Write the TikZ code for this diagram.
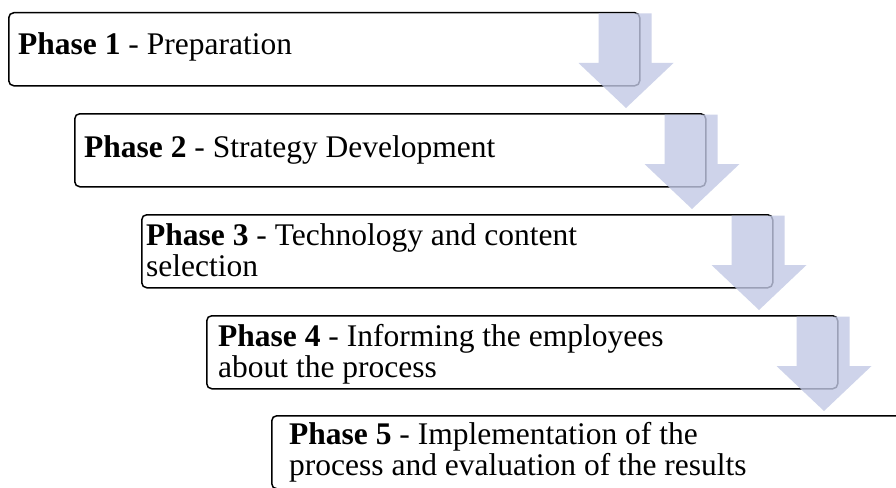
\documentclass[tikz,border=0pt]{standalone}
\usepackage{fontspec}
\setmainfont{Liberation Serif}
\usetikzlibrary{calc}
\definecolor{arrowfill}{RGB}{194,201,229}
\tikzset{
  phasebox/.style={draw=black, line width=1.5pt, rounded corners=5pt, fill=white,
    minimum width=631pt, minimum height=73pt, inner sep=0pt, anchor=north west},
  phasetext/.style={anchor=base west, inner sep=0pt, align=left, text=black,
    font=\fontsize{31.5}{31}\selectfont},
  downarrow/.style={fill=arrowfill, fill opacity=0.8, draw=none}
}
\newcommand{\phasearrow}[1]{%
  \fill[downarrow]
    ($(#1.north east)+(-42,1.5)$) -- ($(#1.north east)+(11,1.5)$) --
    ($(#1.north east)+(11,51)$) -- ($(#1.north east)+(33,51)$) --
    ($(#1.north east)+(-14.5,96)$) -- ($(#1.north east)+(-62,51)$) --
    ($(#1.north east)+(-42,51)$) -- cycle;}
\begin{document}
\begin{tikzpicture}[x=1pt,y=-1pt]
\useasboundingbox (0,0) rectangle (896,487);
\clip (0,0) rectangle (896,487);
\fill[white] (0,0) rectangle (896,487);
% boxes
\node[phasebox] (b1) at (8,12) {};
\node[phasebox] (b2) at (74,113) {};
\node[phasebox] (b3) at (141,214) {};
\node[phasebox] (b4) at (206,315) {};
\node[phasebox] (b5) at (271,415) {};
% texts (base anchor = baseline of the last line)
\node[phasetext] (t1) at (18,55) {\textbf{Phase 1} - Preparation};
\node[phasetext] (t2) at (84,157) {\textbf{Phase 2} - Strategy Development};
\node[phasetext] (t3) at (146,276) {\textbf{Phase 3} - Technology and content\\selection};
\node[phasetext] (t4) at (218,377) {\textbf{Phase 4} - Informing the employees\\about the process};
\node[phasetext] (t5) at (289,475) {\textbf{Phase 5} - Implementation of the\\process and evaluation of the results};
% arrows
\phasearrow{b1}
\phasearrow{b2}
\phasearrow{b3}
\phasearrow{b4}
\end{tikzpicture}
\end{document}
